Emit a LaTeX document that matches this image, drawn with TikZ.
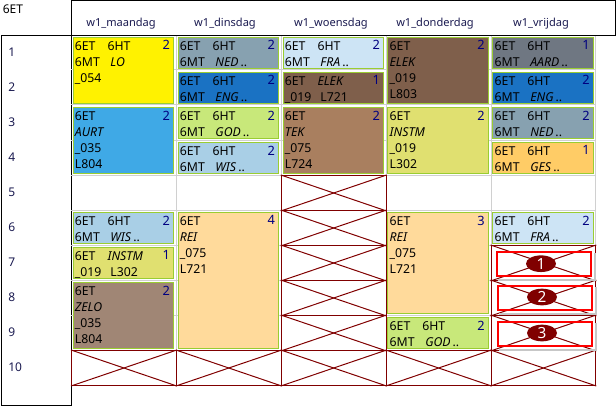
\documentclass[tikz,border=0pt]{standalone}
\usepackage{fontspec}
\setmainfont{Noto Sans}
\usetikzlibrary{shapes.geometric}

\definecolor{gridgrey}{HTML}{D0D0D0}
\definecolor{crossred}{HTML}{800000}
\definecolor{boxgreen}{HTML}{9ACD32}
\definecolor{daynavy}{HTML}{1A1A50}
\definecolor{countblue}{HTML}{000080}
\definecolor{clyellow}{HTML}{FFF200}
\definecolor{claurt}{HTML}{3FA9E6}
\definecolor{clwis}{HTML}{A9CFE6}
\definecolor{clinstm}{HTML}{E0E070}
\definecolor{clzelo}{HTML}{A08675}
\definecolor{clned}{HTML}{87A1B0}
\definecolor{cleng}{HTML}{1A72C3}
\definecolor{clgod}{HTML}{C8E87A}
\definecolor{clrei}{HTML}{FFDA9B}
\definecolor{clfra}{HTML}{CDE4F5}
\definecolor{clelek}{HTML}{7F5F4B}
\definecolor{cltek}{HTML}{A97F5F}
\definecolor{claard}{HTML}{6F7782}
\definecolor{clges}{HTML}{FFCC66}

\newcommand{\firstln}[2]{\makebox[24.5pt][l]{#1}#2}
\newcommand{\secondln}[2]{\makebox[26.7pt][l]{#1}#2}
\newcommand{\moredots}{\,\textbf{..}}
\newcommand{\vak}[1]{\textit{#1}}

\tikzset{
  every node/.append style={font=\fontsize{8.3}{12}\selectfont},
  day/.style={text=daynavy},
  rownr/.style={text=daynavy, anchor=west, inner sep=0pt, font=\fontsize{9}{12}\selectfont},
  gridline/.style={draw=gridgrey, line width=.75pt},
  blocked/.style={draw=crossred, line width=.75pt, anchor=north west, inner sep=0pt,
    minimum width=78.6pt, minimum height=26.25pt,
    append after command={(\tikzlastnode.north west) edge[crossline] (\tikzlastnode.south east)
      (\tikzlastnode.south west) edge[crossline] (\tikzlastnode.north east)}},
  crossline/.style={draw=crossred, line width=.75pt},
  lesson/.style={draw=boxgreen, line width=.75pt, anchor=north west, inner xsep=1.4pt, inner ysep=0pt,
    text width=72.9pt, align=left, text height=9.75pt, text=black, font=\fontsize{9.2}{12}\selectfont},
  oner/.style={lesson, text depth=13.5pt},
  twor/.style={lesson, text depth=39.75pt},
  threer/.style={lesson, text depth=66pt},
  fourr/.style={lesson, text depth=92.25pt},
  hourcount/.style={anchor=north east, text=countblue, inner sep=0pt, xshift=-3.2pt, yshift=-2.6pt,
    font=\fontsize{9.6}{12}\selectfont},
  callout/.style={draw=red, line width=1.5pt, anchor=north west, inner sep=0pt,
    minimum width=70.5pt, minimum height=18pt},
  calloutshadow/.style={draw=black!22, line width=1.5pt},
  badge/.style={ellipse, fill=crossred, text=white, inner sep=0pt, minimum width=22.5pt, minimum height=12.5pt,
    font=\fontsize{11.5}{12}\selectfont},
}

\begin{document}
\begin{tikzpicture}[x=.75pt, y=-.75pt]
    \useasboundingbox (0,0) rectangle (616,406);

    % frame
    \node[draw, line width=.75pt, anchor=north west, inner sep=0pt, minimum width=408pt, minimum height=26.25pt] (header) at (71,.5) {};
    \node[draw, line width=.75pt, anchor=north west, inner sep=0pt, minimum width=52.5pt, minimum height=277.2pt] (side) at (.5,35.5) {};
    \node[inner sep=0pt, anchor=west, font=\fontsize{9}{12}\selectfont] (klas) at (2.5,9) {6ET};

    \node[day] (maandag) at (121,24) {w1\_maandag};
    \node[day] (dinsdag) at (225,24) {w1\_dinsdag};
    \node[day] (woensdag) at (331,24) {w1\_woensdag};
    \node[day] (donderdag) at (435,24) {w1\_donderdag};
    \node[day] (vrijdag) at (541,24) {w1\_vrijdag};

    \node[rownr] (r1) at (8,52) {1};
    \node[rownr] (r2) at (8,87) {2};
    \node[rownr] (r3) at (8,122) {3};
    \node[rownr] (r4) at (8,157) {4};
    \node[rownr] (r5) at (8,192) {5};
    \node[rownr] (r6) at (8,227) {6};
    \node[rownr] (r7) at (8,262) {7};
    \node[rownr] (r8) at (8,297) {8};
    \node[rownr] (r9) at (8,332) {9};
    \node[rownr] (r10) at (8,367) {10};

    % grid
    \draw[gridline]
      (176,36) -- (176,385) (281,36) -- (281,385) (386,36) -- (386,385) (491,36) -- (491,385) (595,36) -- (595,385)
      (71,70) -- (595,70) (71,105) -- (595,105) (71,140) -- (595,140) (71,175) -- (595,175) (71,210) -- (595,210)
      (71,245) -- (595,245) (71,280) -- (595,280) (71,315) -- (595,315) (71,350) -- (595,350);

    % blocked hours
    \node[blocked] (wo5) at (280.8,175) {};
    \node[blocked] (wo6) at (280.8,210) {};
    \node[blocked] (wo7) at (280.8,245) {};
    \node[blocked] (wo8) at (280.8,280) {};
    \node[blocked] (wo9) at (280.8,315) {};
    \node[blocked] (ma10) at (71,350) {};
    \node[blocked] (di10) at (175.9,350) {};
    \node[blocked] (wo10) at (280.8,350) {};
    \node[blocked] (do10) at (385.7,350) {};
    \node[blocked] (vr10) at (490.5,350) {};
    \node[blocked] (vr7) at (490.5,245) {};
    \node[blocked] (vr8) at (490.5,280) {};
    \node[blocked] (vr9) at (490.5,315) {};

    % maandag
    \node[twor, fill=clyellow, label={[hourcount]north east:2}] (ma1) at (72.5,37) {\firstln{6ET}{6HT}\\\secondln{6MT}{\vak{LO}}\\\_054};
    \node[twor, fill=claurt, label={[hourcount]north east:2}] (ma3) at (72.5,107) {6ET\\\vak{AURT}\\\_035\\L804};
    \node[oner, fill=clwis, label={[hourcount]north east:2}] (ma6) at (72.5,212) {\firstln{6ET}{6HT}\\\secondln{6MT}{\vak{WIS}\moredots}};
    \node[oner, fill=clinstm, label={[hourcount]north east:1}] (ma7) at (72.5,247) {\firstln{6ET}{\vak{INSTM}}\\\secondln{\_019}{L302}};
    \node[twor, fill=clzelo, label={[hourcount]north east:2}] (ma8) at (72.5,282) {6ET\\\vak{ZELO}\\\_035\\L804};

    % dinsdag
    \node[oner, fill=clned, label={[hourcount]north east:2}] (di1) at (177.5,37) {\firstln{6ET}{6HT}\\\secondln{6MT}{\vak{NED}\moredots}};
    \node[oner, fill=cleng, label={[hourcount]north east:2}] (di2) at (177.5,72) {\firstln{6ET}{6HT}\\\secondln{6MT}{\vak{ENG}\moredots}};
    \node[oner, fill=clgod, label={[hourcount]north east:2}] (di3) at (177.5,107) {\firstln{6ET}{6HT}\\\secondln{6MT}{\vak{GOD}\moredots}};
    \node[oner, fill=clwis, label={[hourcount]north east:2}] (di4) at (177.5,142) {\firstln{6ET}{6HT}\\\secondln{6MT}{\vak{WIS}\moredots}};
    \node[fourr, fill=clrei, label={[hourcount]north east:4}] (di6) at (177.5,212) {6ET\\\vak{REI}\\\_075\\L721};

    % woensdag
    \node[oner, fill=clfra, label={[hourcount]north east:2}] (wo1) at (282.5,37) {\firstln{6ET}{6HT}\\\secondln{6MT}{\vak{FRA}\moredots}};
    \node[oner, fill=clelek, label={[hourcount]north east:1}] (wo2) at (282.5,72) {\firstln{6ET}{\vak{ELEK}}\\\secondln{\_019}{L721}};
    \node[twor, fill=cltek, label={[hourcount]north east:2}] (wo3) at (282.5,107) {6ET\\\vak{TEK}\\\_075\\L724};

    % donderdag
    \node[twor, fill=clelek, label={[hourcount]north east:2}] (do1) at (387.3,37) {6ET\\\vak{ELEK}\\\_019\\L803};
    \node[twor, fill=clinstm, label={[hourcount]north east:2}] (do3) at (387.3,107) {6ET\\\vak{INSTM}\\\_019\\L302};
    \node[threer, fill=clrei, label={[hourcount]north east:3}] (do6) at (387.3,212) {6ET\\\vak{REI}\\\_075\\L721};
    \node[oner, fill=clgod, label={[hourcount]north east:2}] (do9) at (387.3,317) {\firstln{6ET}{6HT}\\\secondln{6MT}{\vak{GOD}\moredots}};

    % vrijdag
    \node[oner, fill=claard, label={[hourcount]north east:1}] (vr1) at (492.3,37) {\firstln{6ET}{6HT}\\\secondln{6MT}{\vak{AARD}\moredots}};
    \node[oner, fill=cleng, label={[hourcount]north east:2}] (vr2) at (492.3,72) {\firstln{6ET}{6HT}\\\secondln{6MT}{\vak{ENG}\moredots}};
    \node[oner, fill=clned, label={[hourcount]north east:2}] (vr3) at (492.3,107) {\firstln{6ET}{6HT}\\\secondln{6MT}{\vak{NED}\moredots}};
    \node[oner, fill=clges, label={[hourcount]north east:1}] (vr4) at (492.3,142) {\firstln{6ET}{6HT}\\\secondln{6MT}{\vak{GES}\moredots}};
    \node[oner, fill=clfra, label={[hourcount]north east:2}] (vr6) at (492.3,212) {\firstln{6ET}{6HT}\\\secondln{6MT}{\vak{FRA}\moredots}};

    % callouts
    \node[callout] (box1) at (496,251) {};
    \node[callout] (box2) at (497,285) {};
    \node[callout] (box3) at (497,321) {};
    \draw[calloutshadow] ([shift={(3,2)}]box1.north east) -- ([shift={(3,3)}]box1.south east) -- ([shift={(2,3)}]box1.south west);
    \draw[calloutshadow] ([shift={(3,2)}]box2.north east) -- ([shift={(3,3)}]box2.south east) -- ([shift={(2,3)}]box2.south west);
    \draw[calloutshadow] ([shift={(3,2)}]box3.north east) -- ([shift={(3,3)}]box3.south east) -- ([shift={(2,3)}]box3.south west);

    \node[badge] (badge1) at (541,263.7) {1};
    \node[badge] (badge2) at (542,297) {2};
    \node[badge] (badge3) at (542,333) {3};
\end{tikzpicture}
\end{document}
